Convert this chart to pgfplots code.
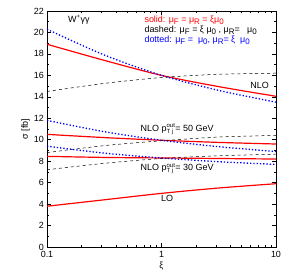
\documentclass[border=0pt]{standalone}
\usepackage{pgfplots}
\pgfplotsset{compat=1.18}
\usepackage{amsmath}
\usepackage{fontspec}
\setmainfont{Liberation Sans}
\newcommand{\sub}[1]{\raisebox{-0.45ex}{\footnotesize #1}}
\begin{document}
\fontsize{9}{10.5}\selectfont
\begin{tikzpicture}
\begin{axis}[
  scale only axis, width=229bp, height=236bp,
  xmode=log, xmin=0.1, xmax=10, ymin=0, ymax=22,
  xtick={0.1,1,10}, xticklabels={0.1,1,10},
  ytick={0,2,...,22}, minor y tick num=1,
  tick align=inside,
  /pgf/number format/assume math mode=true,
  tick label style={font=\fontsize{9}{10.5}\selectfont},
  label style={font=\fontsize{9}{10.5}\selectfont},
  xlabel={ξ}, ylabel={σ [fb]},
  xlabel style={yshift=2pt},
  ylabel style={yshift=-2pt},
  xticklabel style={yshift=-1pt},
  axis line style={line width=0.8pt},
  major tick length=4pt, minor tick length=2.5pt,
  every tick/.style={black, line width=0.5pt},
  smooth,
]
% NLO
\addplot[red, line width=1.2pt, no marks] coordinates {(0.1,18.9) (0.316,17.4) (1,16.0) (3.16,14.95) (10,14.05)};
\addplot[blue, line width=1.3pt, dotted, no marks] coordinates {(0.1,20.3) (0.316,17.9) (1,16.0) (3.16,14.6) (10,13.5)};
\addplot[black, line width=0.5pt, dash pattern=on 3pt off 3pt, no marks] coordinates {(0.1,14.5) (0.316,15.25) (1,15.8) (3.16,16.1) (10,16.2)};
% 50 GeV
\addplot[red, line width=1.2pt, no marks] coordinates {(0.1,10.5) (0.316,10.2) (1,9.95) (3.16,9.75) (10,9.6)};
\addplot[blue, line width=1.3pt, dotted, no marks] coordinates {(0.1,11.8) (0.316,10.75) (1,9.95) (3.16,9.35) (10,8.9)};
\addplot[black, line width=0.5pt, dash pattern=on 3pt off 3pt, no marks] coordinates {(0.1,8.8) (0.316,9.45) (1,9.9) (3.16,10.25) (10,10.4)};
% 30 GeV
\addplot[red, line width=1.2pt, no marks] coordinates {(0.1,8.45) (0.316,8.35) (1,8.3) (3.16,8.25) (10,8.2)};
\addplot[blue, line width=1.3pt, dotted, no marks] coordinates {(0.1,9.4) (0.316,8.75) (1,8.3) (3.16,7.95) (10,7.7)};
\addplot[black, line width=0.5pt, dash pattern=on 3pt off 3pt, no marks] coordinates {(0.1,7.2) (0.316,7.8) (1,8.25) (3.16,8.5) (10,8.65)};
% LO
\addplot[red, line width=1.2pt, no marks] coordinates {(0.1,3.8) (0.316,4.4) (1,5.0) (3.16,5.5) (10,5.9)};

\node at (axis cs:0.19,21.2) {W\textsuperscript{+}γγ};
\node at (axis cs:7.2,15.1) {NLO};
\node at (axis cs:1.12,4.5) {LO};
\node at (axis cs:1.37,11.0) {NLO p$^{\text{out}}_{\text{T j}}$= 50 GeV};
\node at (axis cs:1.37,7.3) {NLO p$^{\text{out}}_{\text{T j}}$= 30 GeV};
\node[anchor=west, red, inner sep=0pt] at (rel axis cs:0.425,0.962) {solid: μ\sub{F} = μ\sub{R} = ξμ\sub{0}};
\node[anchor=west, black, inner sep=0pt] at (rel axis cs:0.425,0.919) {dashed: μ\sub{F} = ξ μ\sub{0} , μ\sub{R}= \ \ μ\sub{0}};
\node[anchor=west, blue, inner sep=0pt] at (rel axis cs:0.425,0.877) {dotted: μ\sub{F} = \ μ\sub{0}, μ\sub{R}= ξ \ μ\sub{0}};
\end{axis}
\path ([shift={(-47bp,-32bp)}]current axis.south west) rectangle ([shift={(13bp,11bp)}]current axis.north east);
\end{tikzpicture}
\end{document}
